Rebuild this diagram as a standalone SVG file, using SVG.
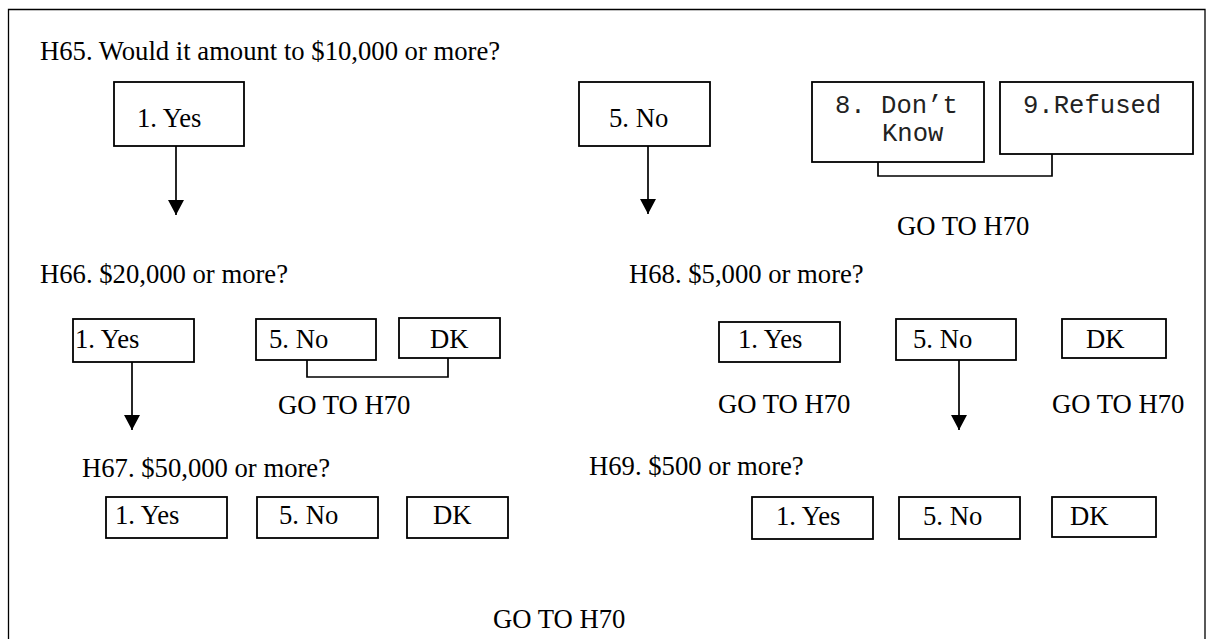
<svg xmlns="http://www.w3.org/2000/svg" width="1207" height="639" viewBox="0 0 1207 639">
<defs>
<style>
.t{font-family:"Liberation Serif","Times New Roman",serif;font-size:26.67px;fill:#000}
.m{font-family:"Liberation Mono","Courier New",monospace;font-size:25.6px;fill:#222}
.b{fill:#fff;stroke:#000;stroke-width:1.8}
.c{fill:none;stroke:#000;stroke-width:1.7}
</style>
<marker id="ah" markerWidth="16" markerHeight="15" refX="8" refY="15" orient="0" markerUnits="userSpaceOnUse">
<path d="M0,0 L16,0 L8,15 Z" fill="#000"/>
</marker>
</defs>
<rect x="0" y="0" width="1207" height="639" fill="#fff"/>
<path id="frame" d="M8.5,660 V9.5 H1205 V660" fill="none" stroke="#000" stroke-width="1.3"/>

<g id="q-h65"><text class="t" x="40" y="60">H65. Would it amount to $10,000 or more?</text></g>
<g id="h65-yes"><rect class="b" x="114" y="82" width="130" height="64"/><text class="t" x="137" y="127">1. Yes</text></g>
<g id="h65-no"><rect class="b" x="579" y="82" width="131" height="64"/><text class="t" x="609" y="127">5. No</text></g>
<g id="h65-dk"><rect class="b" x="812" y="82" width="172" height="80"/><text class="m" x="835" y="113">8. Don’t</text><text class="m" x="882" y="141">Know</text></g>
<g id="h65-ref"><rect class="b" x="1000" y="82" width="193" height="72"/><text class="m" x="1023" y="113">9.Refused</text></g>
<g id="goto1"><text class="t" x="897" y="235">GO TO H70</text></g>

<g id="q-h66"><text class="t" x="40" y="283">H66. $20,000 or more?</text></g>
<g id="h66-yes"><rect class="b" x="73" y="319" width="121" height="43"/><text class="t" x="75" y="348">1. Yes</text></g>
<g id="h66-no"><rect class="b" x="256" y="319" width="120" height="41"/><text class="t" x="269" y="348">5. No</text></g>
<g id="h66-dk"><rect class="b" x="399" y="318" width="101" height="40"/><text class="t" x="430" y="348">DK</text></g>
<g id="goto2"><text class="t" x="278" y="414">GO TO H70</text></g>

<g id="q-h68"><text class="t" x="629" y="283">H68. $5,000 or more?</text></g>
<g id="h68-yes"><rect class="b" x="719" y="322" width="121" height="40"/><text class="t" x="738" y="348">1. Yes</text></g>
<g id="h68-no"><rect class="b" x="896" y="319" width="120" height="41"/><text class="t" x="913" y="348">5. No</text></g>
<g id="h68-dk"><rect class="b" x="1062" y="319" width="104" height="39"/><text class="t" x="1086" y="348">DK</text></g>
<g id="goto3"><text class="t" x="718" y="413">GO TO H70</text></g>
<g id="goto4"><text class="t" x="1052" y="413">GO TO H70</text></g>

<g id="q-h67"><text class="t" x="82" y="477">H67. $50,000 or more?</text></g>
<g id="h67-yes"><rect class="b" x="106" y="497" width="121" height="41"/><text class="t" x="115" y="524">1. Yes</text></g>
<g id="h67-no"><rect class="b" x="257" y="497" width="121" height="41"/><text class="t" x="279" y="524">5. No</text></g>
<g id="h67-dk"><rect class="b" x="407" y="497" width="101" height="41"/><text class="t" x="433" y="524">DK</text></g>

<g id="q-h69"><text class="t" x="589" y="475">H69. $500 or more?</text></g>
<g id="h69-yes"><rect class="b" x="752" y="497" width="121" height="42"/><text class="t" x="776" y="525">1. Yes</text></g>
<g id="h69-no"><rect class="b" x="899" y="497" width="121" height="42"/><text class="t" x="923" y="525">5. No</text></g>
<g id="h69-dk"><rect class="b" x="1052" y="497" width="104" height="40"/><text class="t" x="1070" y="525">DK</text></g>

<g id="goto5"><text class="t" x="493" y="628">GO TO H70</text></g>

<g id="connectors">
<path class="c" d="M176,146 V215" marker-end="url(#ah)"/>
<path class="c" d="M648,146 V214" marker-end="url(#ah)"/>
<path class="c" d="M132,362 V430" marker-end="url(#ah)"/>
<path class="c" d="M959,360 V430" marker-end="url(#ah)"/>
<path class="c" d="M878,162 V176 H1052 V154"/>
<path class="c" d="M307,360 V377 H448 V358"/>
</g>
</svg>
